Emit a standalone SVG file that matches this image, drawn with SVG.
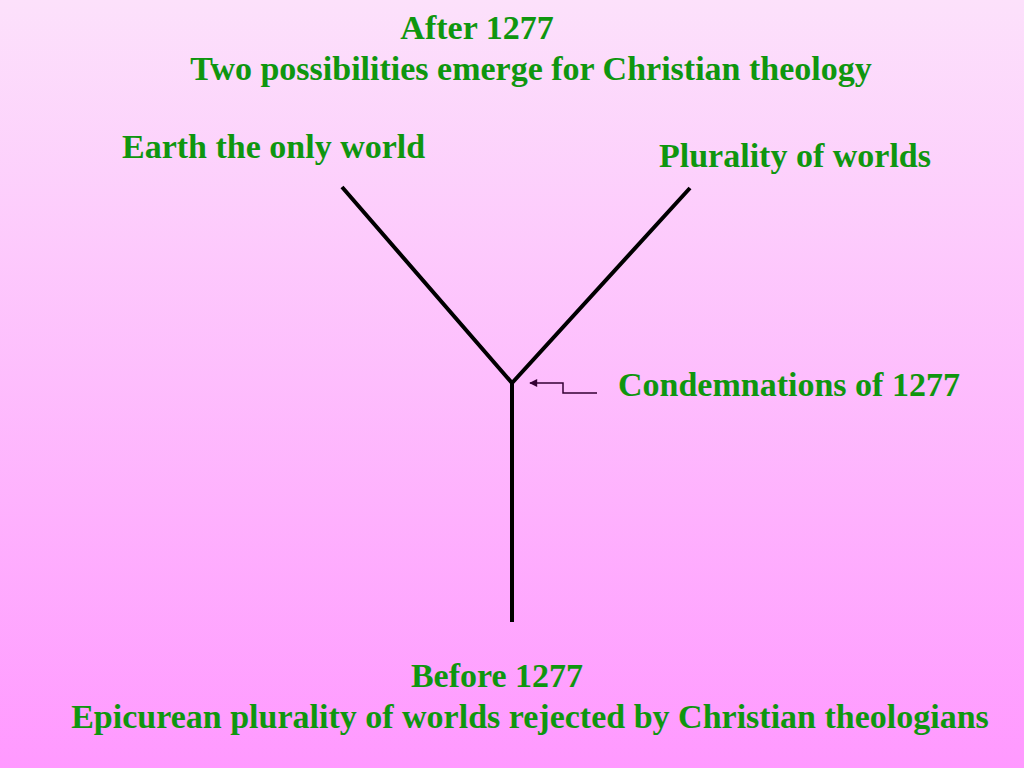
<svg xmlns="http://www.w3.org/2000/svg" width="1024" height="768" viewBox="0 0 1024 768">
<defs>
<linearGradient id="bg" x1="0" y1="0" x2="0" y2="1">
<stop offset="0" stop-color="#FCE1FB"/>
<stop offset="1" stop-color="#FF99FF"/>
</linearGradient>
<marker id="ah" viewBox="0 0 10 10" refX="9" refY="5" markerWidth="11" markerHeight="8" markerUnits="userSpaceOnUse" orient="auto">
<path d="M0,0 L10,5 L0,10 z" fill="#330033"/>
</marker>
<style>
.t{font-family:"Liberation Serif","Times New Roman",serif;font-weight:bold;font-size:34px;fill:#0F960F}
.br{stroke:#000;stroke-width:4;fill:none;stroke-linecap:butt}
</style>
</defs>
<rect width="1024" height="768" fill="url(#bg)"/>
<g id="connectors">
<path class="br" d="M342,187 L512,383 L690,188"/>
<path class="br" d="M512,383 L512,622"/>
<path d="M597,393 L563,393 L563,383 L530,383" fill="none" stroke="#330033" stroke-width="1.5" marker-end="url(#ah)"/>
</g>
<g id="after"><text class="t" x="477" y="39" text-anchor="middle">After 1277</text>
<text class="t" x="531" y="80" text-anchor="middle">Two possibilities emerge for Christian theology</text></g>
<g id="earth"><text class="t" x="122" y="158">Earth the only world</text></g>
<g id="plurality"><text class="t" x="659" y="167">Plurality of worlds</text></g>
<g id="condemnations"><text class="t" x="618" y="396">Condemnations of 1277</text></g>
<g id="before"><text class="t" x="497" y="687" text-anchor="middle">Before 1277</text>
<text class="t" x="530" y="728" text-anchor="middle">Epicurean plurality of worlds rejected by Christian theologians</text></g>
</svg>
